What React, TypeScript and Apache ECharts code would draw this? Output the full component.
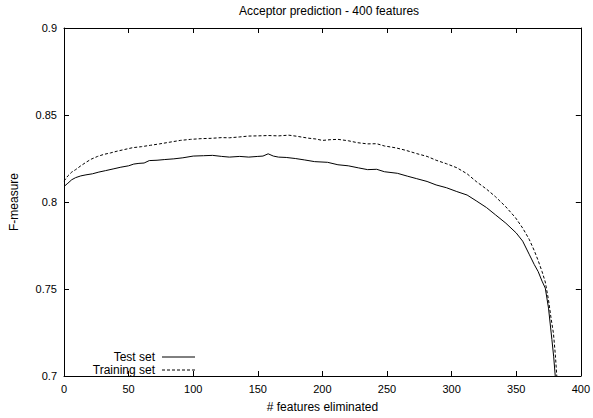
import React, { useEffect, useRef } from "react";
import * as echarts from "echarts";

const titleText = "Acceptor prediction - 400 features";
const xAxisName = "# features eliminated";
const yAxisName = "F-measure";
const seriesNames = ["Test set", "Training set"];

const testX = [0, 3, 6, 9, 13, 17, 22, 27, 32, 38, 44, 50, 54, 58, 62, 66, 72, 78, 85, 92, 100, 108, 115, 122, 128, 136, 143, 150, 154, 158, 162, 166, 172, 179, 186, 194, 204, 212, 220, 228, 235, 242, 248, 258, 266, 273, 281, 288, 296, 304, 312, 319, 327, 334, 342, 350, 355, 360, 364, 367, 370, 372.5, 375, 377.6, 379, 380.2];
const testY = [0.8089, 0.8108, 0.8128, 0.814, 0.815, 0.8156, 0.8162, 0.8172, 0.818, 0.819, 0.82, 0.8208, 0.8218, 0.8222, 0.8224, 0.8238, 0.824, 0.8244, 0.8248, 0.8254, 0.8264, 0.8266, 0.8268, 0.8262, 0.8258, 0.8262, 0.8258, 0.8262, 0.8264, 0.8277, 0.8264, 0.8258, 0.8256, 0.825, 0.8242, 0.8232, 0.8228, 0.8214, 0.8208, 0.8196, 0.8186, 0.8188, 0.8174, 0.8165, 0.8148, 0.8134, 0.8118, 0.8098, 0.8082, 0.806, 0.804, 0.8007, 0.7968, 0.7926, 0.7878, 0.7822, 0.7775, 0.77, 0.764, 0.76, 0.7545, 0.7505, 0.739, 0.721, 0.711, 0.7];

const trainX = [0, 3, 6, 9, 13, 17, 21, 26, 31, 36, 41, 47, 53, 60, 67, 74, 82, 90, 98, 106, 114, 122, 128, 136, 143, 150, 158, 166, 174, 180, 189, 195, 200, 206, 212, 220, 227, 235, 242, 248, 257, 265, 273, 281, 288, 296, 304, 312, 319, 327, 334, 342, 349.5, 355, 360, 364, 367, 370, 372.5, 375, 377, 378.8, 380.3, 381.4];
const trainY = [0.812, 0.815, 0.8172, 0.8186, 0.8208, 0.8228, 0.8246, 0.8262, 0.8274, 0.8282, 0.8292, 0.8302, 0.8312, 0.8318, 0.8326, 0.8334, 0.8344, 0.8354, 0.836, 0.8364, 0.8366, 0.837, 0.8369, 0.8374, 0.8379, 0.838, 0.8382, 0.838, 0.8384, 0.8378, 0.8367, 0.8362, 0.8354, 0.8358, 0.836, 0.8352, 0.8341, 0.8334, 0.8335, 0.8322, 0.8311, 0.8296, 0.8278, 0.8262, 0.824, 0.822, 0.8197, 0.8162, 0.8118, 0.8074, 0.803, 0.7972, 0.7909, 0.785, 0.7786, 0.772, 0.7663, 0.76, 0.754, 0.7436, 0.733, 0.7246, 0.712, 0.7];

const FONT = "'Liberation Sans', Arial, Helvetica, sans-serif";

export default function App() {
  const ref = useRef<HTMLDivElement>(null);
  useEffect(() => {
    if (!ref.current) return;
    const chart = echarts.init(ref.current, undefined, { renderer: "svg" });
    const axisCommon = {
      axisLine: { show: true, onZero: false, lineStyle: { color: "#000", width: 1 } },
      axisTick: { show: true, inside: true, length: 5, lineStyle: { color: "#000" } },
      splitLine: { show: false },
    };
    const testData = testX.map((x, i) => [x, testY[i]]);
    const trainData = trainX.map((x, i) => [x, trainY[i]]);
    chart.setOption({
      animation: false,
      backgroundColor: "#fff",
      textStyle: { fontFamily: FONT },
      title: {
        text: titleText,
        left: 324,
        textAlign: "center",
        top: 0,
        textStyle: { fontSize: 12, fontWeight: "normal", color: "#000", fontFamily: FONT },
      },
      grid: { left: 63, right: 7, top: 28, bottom: 38, containLabel: false },
      xAxis: [
        {
          type: "value",
          min: 0,
          max: 400,
          interval: 50,
          position: "bottom",
          name: xAxisName,
          nameLocation: "middle",
          nameGap: 25,
          nameTextStyle: { fontSize: 12, color: "#000", fontFamily: FONT },
          axisLabel: { show: true, color: "#000", fontSize: 11, margin: 7, fontFamily: FONT },
          ...axisCommon,
        },
        {
          type: "value",
          min: 0,
          max: 400,
          interval: 50,
          position: "top",
          axisLabel: { show: false },
          ...axisCommon,
        },
      ],
      yAxis: [
        {
          type: "value",
          min: 0.7,
          max: 0.9,
          interval: 0.05,
          position: "left",
          name: yAxisName,
          nameLocation: "middle",
          nameGap: 44,
          nameRotate: 90,
          nameTextStyle: { fontSize: 12, color: "#000", fontFamily: FONT },
          axisLabel: { show: true, color: "#000", fontSize: 11, margin: 7, fontFamily: FONT },
          ...axisCommon,
        },
        {
          type: "value",
          min: 0.7,
          max: 0.9,
          interval: 0.05,
          position: "right",
          axisLabel: { show: false },
          ...axisCommon,
        },
      ],
      series: [
        {
          name: seriesNames[0],
          type: "line",
          data: testData,
          showSymbol: false,
          symbol: "none",
          lineStyle: { color: "#000", width: 1, type: "solid" },
          xAxisIndex: 0,
          yAxisIndex: 0,
        },
        {
          name: seriesNames[1],
          type: "line",
          data: trainData,
          showSymbol: false,
          symbol: "none",
          lineStyle: { color: "#000", width: 1, type: [3, 2] },
          xAxisIndex: 0,
          yAxisIndex: 0,
        },
      ],
      graphic: [
        {
          type: "text",
          x: 155,
          y: 357,
          style: { text: seriesNames[0], fill: "#000", font: `12px ${FONT}`, textAlign: "right", textVerticalAlign: "middle" },
        },
        {
          type: "line",
          shape: { x1: 162, y1: 357, x2: 195, y2: 357 },
          style: { stroke: "#000", lineWidth: 1 },
        },
        {
          type: "text",
          x: 155,
          y: 370,
          style: { text: seriesNames[1], fill: "#000", font: `12px ${FONT}`, textAlign: "right", textVerticalAlign: "middle" },
        },
        {
          type: "line",
          shape: { x1: 162, y1: 370, x2: 195, y2: 370 },
          style: { stroke: "#000", lineWidth: 1, lineDash: [3, 2] },
        },
      ],
    });
    return () => chart.dispose();
  }, []);
  return (
    <div
      ref={ref}
      style={{ position: "fixed", left: 0, top: 0, width: 593, height: 418, background: "#fff" }}
    />
  );
}
